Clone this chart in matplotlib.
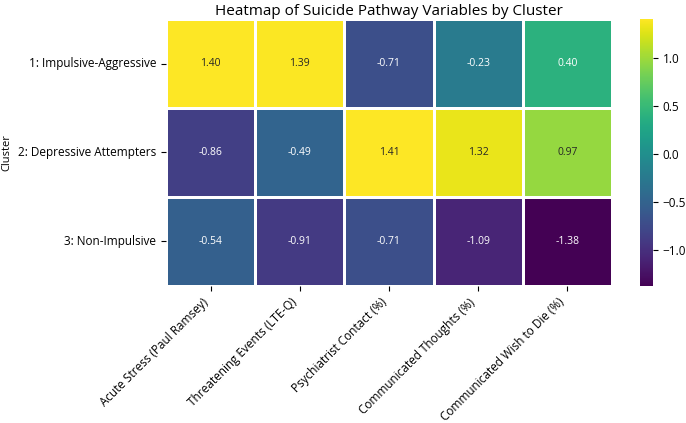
import numpy as np
import pandas as pd
import matplotlib
matplotlib.use("Agg")
import matplotlib.pyplot as plt
import seaborn as sns

clusters = ["1: Impulsive-Aggressive", "2: Depressive Attempters", "3: Non-Impulsive"]
variables = ["Acute Stress (Paul Ramsey)", "Threatening Events (LTE-Q)",
             "Psychiatrist Contact (%)", "Communicated Thoughts (%)",
             "Communicated Wish to Die (%)"]
row1 = [1.40, 1.39, -0.71, -0.23, 0.40]
row2 = [-0.86, -0.49, 1.41, 1.32, 0.97]
row3 = [-0.54, -0.91, -0.71, -1.09, -1.38]

df = pd.DataFrame([row1, row2, row3], index=clusters, columns=variables)

plt.rcParams['font.family'] = ['Open Sans', 'DejaVu Sans']

fig = plt.figure(figsize=(6.86, 4.23), dpi=100)
ax = fig.add_axes([0.242, 0.324, 0.650, 0.631])
cax = fig.add_axes([0.933, 0.324, 0.019, 0.631])
sns.heatmap(df, ax=ax, cbar_ax=cax, cmap="viridis", annot=True, fmt=".2f",
            linewidths=0.8, linecolor="white", annot_kws={"fontsize": 7.5})
ax.set_title("Heatmap of Suicide Pathway Variables by Cluster", fontsize=11, pad=3)
ax.set_ylabel("Cluster", fontsize=8)
ax.set_xlabel("")
ax.set_xticklabels(ax.get_xticklabels(), rotation=45, ha="right", fontsize=8.5)
ax.set_yticklabels(ax.get_yticklabels(), rotation=0, fontsize=8.5)
cax.tick_params(labelsize=8.5)
cax.set_yticks([-1.0, -0.5, 0.0, 0.5, 1.0])

fig.savefig("out.png", dpi=100)
